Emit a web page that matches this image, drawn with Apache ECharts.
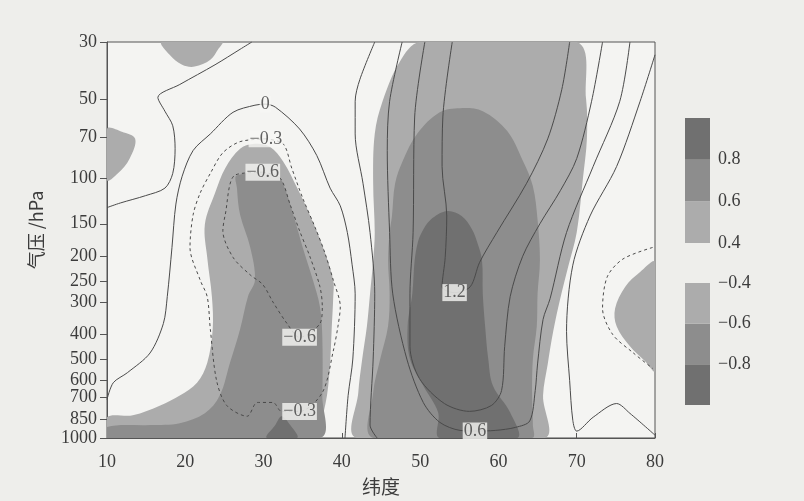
<!DOCTYPE html>
<html>
<head>
<meta charset="utf-8">
<script src="https://cdn.jsdelivr.net/npm/echarts@6/dist/echarts.min.js"></script>
<style>
html,body{margin:0;padding:0;background:#eeeeeb;}
#chart{width:804px;height:501px;}
</style>
</head>
<body>
<div id="chart"></div>
<script>
// 坐标轴刻度
var latTicks = [10, 20, 30, 40, 50, 60, 70, 80];
var presTicks = [30, 50, 70, 100, 150, 200, 250, 300, 400, 500, 600, 700, 850, 1000];

// 色标分级
var posLevels = [0.4, 0.6, 0.8, 1.0];
var negLevels = [-1.0, -0.8, -0.6, -0.4];
var shadeColors = ['#acacac', '#8d8d8d', '#707070'];

// 阴影区 [纬度, 气压hPa]
var posLight = [[50.0,30],[47.4,35.7],[45.2,50.7],[44.2,67.7],[44.0,104.8],[44.2,162],[44.0,207],[43.6,279],[43.2,372],[42.6,497],[42.1,669],[41.9,1000],
  [65.9,1000],[65.7,687],[66.3,519],[67.0,389],[67.9,291],[68.9,220],[70.0,162],[70.8,100],[71.3,70.7],[71.2,49.8],[70.0,30]];
var posMid = [[52.5,55.9],[55.1,53.9],[58.0,55.4],[61.1,65.9],[63.1,85.7],[64.4,107.5],[65.0,144.8],[65.3,207],[65.0,279],[64.9,372],[64.4,497],[64.3,669],[64.4,892],[64.3,1000],
  [44.0,1000],[44.0,669],[44.9,497],[45.9,372],[46.1,279],[45.9,207],[46.1,162],[46.4,140],[46.8,105],[47.8,85.7],[49.6,67.7]];
var posDark = [[50.2,162],[51.3,145],[53.4,134],[55.3,140],[56.6,157],[57.3,177],[57.9,207],[58.0,279],[58.3,372],[58.7,497],[59.3,629],[61.5,797],[62.4,1000],
  [52.5,1000],[52.3,797],[50.4,629],[48.7,497],[48.4,372],[49.0,279],[49.3,207],[49.7,177]];
var negLight = [[28.9,73.9],[30.8,75.8],[32.5,86.4],[34.3,109.4],[35.9,138.6],[37.6,185],[38.9,247],[38.9,286],[38.7,382],[38.5,515],[38.1,687],[37.2,916],[36.9,1000],
  [10,1000],[10,832],[13.3,818],[16.8,750],[19.3,687],[21.5,613],[22.8,515],[23.5,382],[23.4,286],[22.8,202],[22.5,151],[23.8,114.3],[25.1,91.7],[27.0,77.2]];
var negMid = [[26.6,97.7],[31.7,97.7],[32.7,109.4],[33.8,138.6],[35.0,185],[36.3,247],[37.2,313],[37.5,406],[37.5,687],[37.2,1000],
  [10,1000],[10,908],[15.5,892],[19.3,877],[22.5,804],[24.4,687],[25.7,515],[27.0,382],[28.0,286],[28.9,247],[28.3,185],[27.0,138.6],[26.6,109.4]];
var negDark = [[30.4,1000],[31.5,892],[32.3,825],[33.4,892],[34.3,1000]];
var patchTop = [[17.0,30],[18.0,33.6],[19.6,36.7],[21.2,37.3],[23.2,35.1],[24.2,32],[24.7,30]];
var patchLeft = [[10,64.8],[11.9,66.4],[13.6,70.7],[12.9,84.2],[11.4,96],[10,102]];
var patchRight = [[80,211],[78.1,230],[76.2,262],[74.9,318],[75.1,372],[76.8,444],[78.7,506],[80,552]];

// 等值线 [纬度, 气压hPa]
var lineZeroTop = [[10,130],[11.7,124.8],[14.9,117],[17.4,109.4],[18.4,96],[18.7,77.2],[18.4,63],[17.4,55.4],[16.5,49],[19.3,43.7],[23.8,36.7],[27.0,32],[28.5,30]];
var lineZero = [[10,711],[10.8,613],[12.6,561],[15.5,471],[17.2,363],[17.7,286],[18.3,185],[18.8,126],[19.6,98.5],[21.0,78.4],[23.2,67.7],[26.1,55.9],[28.9,52.5],[30.2,52],
  [31.5,53.4],[34.6,64.8],[36.8,82],[38.5,109.4],[39.8,128],[40.7,162],[41.3,214.6],[41.7,279],[41.4,497],[40.8,687],[40.4,1000]];
var lineNeg03 = [[30.2,70.7],[32.5,73.9],[33.6,91.7],[35.0,119.5],[36.6,155.3],[37.8,193],[38.9,247],[39.8,312.6],[39.5,372],[38.9,463],[37.5,669],[34.6,790],
  [32.3,790],[31.2,730],[29.2,730],[27.9,825],[25.3,750],[24.0,602],[23.2,382],[22.8,286],[21.9,247],[20.6,185],[21.0,138.6],[21.9,114.3],[23.2,96],[24.8,80],[27.0,72.5],[30.2,70.7]];
var lineNeg06 = [[29.9,95],[32.1,100],[33.4,126.8],[34.6,159.7],[35.9,200],[37.2,262],[37.5,312.6],[37.2,363],[34.6,410],[33.0,363],[31.2,300],[29.9,257],
  [28.3,236],[26.1,202],[24.8,159.7],[25.1,138.6],[26.3,97.7],[29.9,95]];
var linePos03 = [[44.2,30],[42.3,41.8],[41.7,50.7],[41.7,67.7],[42.7,104.8],[43.6,162],[44.2,279],[44.0,497],[43.6,892],[44.5,1000]];
var linePos06 = [[47.7,30],[46.1,50.7],[45.8,78.4],[46.1,162],[46.5,279],[48.3,497],[50.4,730],[52.5,870],[55.1,935],[57.0,940],[59.6,935],[62.2,910],[64.0,860],
  [64.7,657],[65.0,519],[65.7,350],[66.6,291],[68.7,162],[72.1,90.3],[75.5,50.7],[76.8,30]];
var linePos09 = [[50.6,30],[49.3,58.3],[49.1,162],[48.7,279],[48.7,444],[49.9,590],[53.1,737],[56.3,790],[59.1,750],[60.4,657],[60.8,444],[61.5,286],[63.1,200],
  [65.3,150],[67.9,112],[70.0,84.2],[71.9,50.7],[73.3,30]];
var linePos12 = [[54.1,30],[52.9,58.3],[52.8,90.3],[53.4,140],[53.2,202],[52.8,262],[54.4,276],[56.4,262],[57.6,211],[59.8,162],[63.6,104.8],[66.3,70.7],[68.1,45.6],[69.1,30]];
var linePosRight = [[80,33.6],[78.1,50.7],[75.1,90.3],[71.7,140],[69.5,216.5],[68.7,389],[69.1,602],[69.5,855],[70.0,941],[72.1,832],[75.1,737],[76.8,804],[80,975]];
var lineNegRight = [[79.7,185],[75.9,205],[73.9,240],[73.3,318],[74.6,400],[77.2,470],[79.7,540]];

// 等值线标注 [纬度, 气压hPa, 文字]
var contourLabels = [[30.2,52,'0'],[30.3,70.7,'\u22120.3'],[29.9,95,'\u22120.6'],[34.6,410,'\u22120.6'],[34.6,790,'\u22120.3'],[54.4,276,'1.2'],[57.0,940,'0.6']];

var serif = "'Liberation Serif','DejaVu Serif',serif";
var textColor = '#3c3c3c';
var lineColor = '#4a4a4a';

function lp(arr){
	return arr.map(function(d){ return [d[0], Math.log10(d[1])]; });
}

var shadeList = [
	{pts: posLight, color: shadeColors[0]},
	{pts: posMid, color: shadeColors[1]},
	{pts: posDark, color: shadeColors[2]},
	{pts: negLight, color: shadeColors[0]},
	{pts: negMid, color: shadeColors[1]},
	{pts: negDark, color: shadeColors[2]},
	{pts: patchTop, color: shadeColors[0]},
	{pts: patchLeft, color: shadeColors[0]},
	{pts: patchRight, color: shadeColors[0]}
];

var lineList = [
	{pts: lineZeroTop, dash: false},
	{pts: lineZero, dash: false},
	{pts: lineNeg03, dash: true},
	{pts: lineNeg06, dash: true},
	{pts: linePos03, dash: false},
	{pts: linePos06, dash: false},
	{pts: linePos09, dash: false},
	{pts: linePos12, dash: false},
	{pts: linePosRight, dash: false},
	{pts: lineNegRight, dash: true}
];

var myChart = echarts.init(document.getElementById('chart'));

var series = [];
// 填色
series.push({
	type: 'custom',
	xAxisIndex: 0, yAxisIndex: 0,
	clip: true,
	silent: true,
	data: shadeList.map(function(s){ return [s.pts[0][0], Math.log10(s.pts[0][1])]; }),
	renderItem: function(params, api){
		var s = shadeList[params.dataIndex];
		var pts = lp(s.pts).map(function(d){ return api.coord(d); });
		var c0 = api.coord([10, Math.log10(30)]);
		var c1 = api.coord([80, 3]);
		return {
			type: 'polygon',
			shape: {points: pts, smooth: 0.35, smoothConstraint: [c0, c1]},
			style: {fill: s.color, stroke: null}
		};
	},
	z: 1
});
// 等值线
lineList.forEach(function(l){
	series.push({
		type: 'line',
		xAxisIndex: 0, yAxisIndex: 0,
		data: lp(l.pts),
		smooth: 0.3,
		symbol: 'none',
		silent: true,
		lineStyle: {color: lineColor, width: 1, type: l.dash ? [3, 3] : 'solid'},
		z: 2
	});
});
// 标注
series.push({
	type: 'scatter',
	xAxisIndex: 0, yAxisIndex: 0,
	symbolSize: 1,
	itemStyle: {color: 'rgba(0,0,0,0)'},
	silent: true,
	data: contourLabels.map(function(d){ return [d[0], Math.log10(d[1]), d[2]]; }),
	label: {
		show: true,
		position: 'inside',
		formatter: function(p){ return p.data[2]; },
		fontFamily: serif,
		fontSize: 18,
		color: textColor,
		backgroundColor: '#f6f6f4',
		padding: [0, 1, -1, 1]
	},
	z: 5
});
// 色标
function barSeries(levels, xi, yi){
	var items = [];
	for (var i = 0; i < levels.length - 1; i++){
		items.push([0.5, levels[i], levels[i+1]]);
	}
	return {
		type: 'custom',
		xAxisIndex: xi, yAxisIndex: yi,
		silent: true,
		data: items,
		renderItem: function(params, api){
			var lo = api.value(1), hi = api.value(2);
			var p0 = api.coord([0, hi]);
			var p1 = api.coord([1, lo]);
			var idx = levels[0] > 0 ? params.dataIndex : (levels.length - 2 - params.dataIndex);
			return {
				type: 'rect',
				shape: {x: p0[0], y: p0[1], width: p1[0] - p0[0], height: p1[1] - p0[1]},
				style: {fill: shadeColors[idx]}
			};
		}
	};
}
series.push(barSeries(posLevels, 1, 1));
series.push(barSeries(negLevels, 2, 2));

function minusFmt(v){
	var s = (Math.round(v * 10) / 10).toFixed(1);
	return s.replace('-', '\u2212');
}

var cbarY = function(g, mn, mx, vals){
	return {
		type: 'value', gridIndex: g, min: mn, max: mx, position: 'right',
		axisLine: {show: false}, axisTick: {show: false}, splitLine: {show: false},
		axisLabel: {customValues: vals, formatter: minusFmt, margin: 8, fontFamily: serif, fontSize: 18, color: textColor}
	};
};
var hiddenX = function(g){
	return {type: 'value', gridIndex: g, min: 0, max: 1, show: false};
};

var option = {
	backgroundColor: '#eeeeeb',
	animation: false,
	grid: [
		{left: 107, top: 42, width: 548, height: 401, show: true, backgroundColor: '#f4f4f2', borderColor: '#555', borderWidth: 1},
		{left: 685, top: 118, width: 25, height: 125},
		{left: 685, top: 283, width: 25, height: 122}
	],
	xAxis: [
		{
			type: 'value', gridIndex: 0, min: 10, max: 80, interval: 10,
			name: '纬度', nameLocation: 'middle', nameGap: 39, nameMoveOverlap: false,
			nameTextStyle: {fontFamily: "'Noto Sans CJK SC'", fontSize: 19, color: textColor, padding: [0, 0, 10, 0]},
			axisLine: {lineStyle: {color: '#555'}},
			axisTick: {inside: true, length: 5, lineStyle: {color: '#555'}},
			axisLabel: {margin: 15, fontFamily: serif, fontSize: 18, color: textColor},
			splitLine: {show: false}
		},
		hiddenX(1),
		hiddenX(2)
	],
	yAxis: [
		{
			type: 'value', gridIndex: 0, inverse: true,
			min: Math.log10(30), max: 3,
			name: '气压 /hPa', nameLocation: 'middle', nameGap: 62, nameRotate: 90,
			nameTextStyle: {fontFamily: "'Noto Sans CJK SC'", fontSize: 18, color: textColor, padding: [0, 0, 0, 20]},
			axisLine: {lineStyle: {color: '#555'}},
			axisTick: {inside: false, length: 7, customValues: presTicks.map(Math.log10), lineStyle: {color: '#555'}},
			axisLabel: {
				customValues: presTicks.map(Math.log10),
				formatter: function(v){ return String(Math.round(Math.pow(10, v))); },
				margin: 10, fontFamily: serif, fontSize: 18, color: textColor
			},
			splitLine: {show: false}
		},
		cbarY(1, 0.4, 1.0, [0.4, 0.6, 0.8]),
		cbarY(2, -1.0, -0.4, [-0.8, -0.6, -0.4])
	],
	series: series
};
myChart.setOption(option);
</script>
</body>
</html>
